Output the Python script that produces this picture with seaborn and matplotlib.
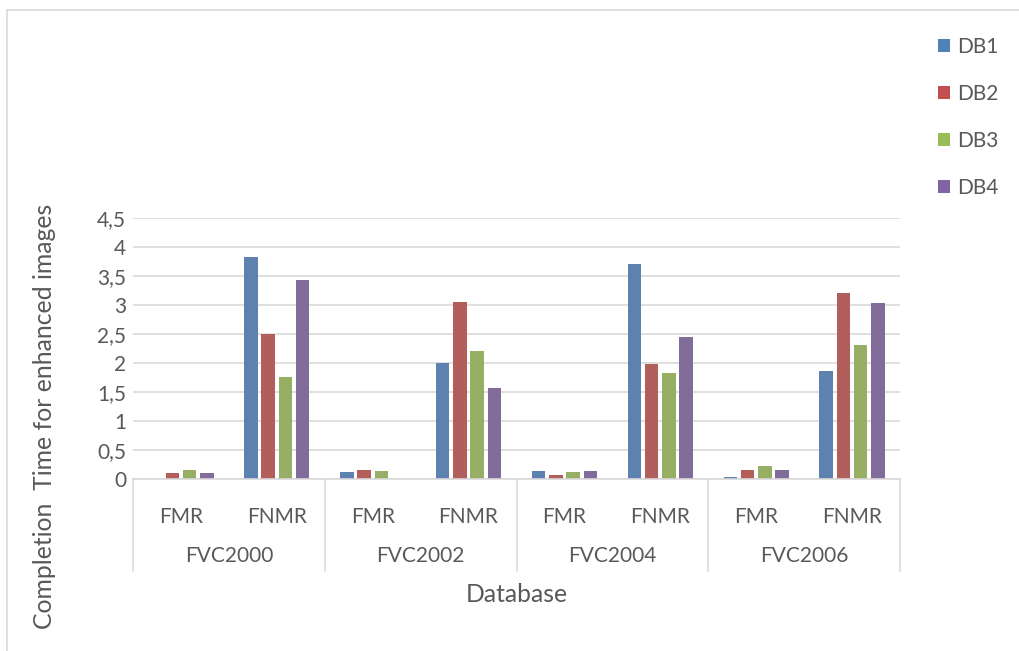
import matplotlib
matplotlib.use("Agg")
import matplotlib.pyplot as plt
from matplotlib.patches import Rectangle, Patch
import seaborn as sns
import pandas as pd

# Chart data
competitions = ["FVC2000", "FVC2002", "FVC2004", "FVC2006"]
metrics = ["FMR", "FNMR"]
databases = ["DB1", "DB2", "DB3", "DB4"]

# values per database, ordered FVC2000 FMR, FVC2000 FNMR, FVC2002 FMR, ...
db1 = [0.00, 3.83, 0.12, 2.00, 0.13, 3.70, 0.04, 1.87]
db2 = [0.11, 2.50, 0.15, 3.06, 0.07, 1.98, 0.15, 3.21]
db3 = [0.15, 1.76, 0.13, 2.21, 0.12, 1.83, 0.22, 2.31]
db4 = [0.10, 3.43, 0.00, 1.57, 0.13, 2.44, 0.15, 3.04]

y_ticks = [0, 0.5, 1, 1.5, 2, 2.5, 3, 3.5, 4, 4.5]
y_tick_labels = ["0", "0,5", "1", "1,5", "2", "2,5", "3", "3,5", "4", "4,5"]

colors = ["#4F81BD", "#C0504D", "#9BBB59", "#8064A2"]
text_color = "#595959"
line_color = "#D9D9D9"

categories = [f"{c} {m}" for c in competitions for m in metrics]
series = {"DB1": db1, "DB2": db2, "DB3": db3, "DB4": db4}
rows = []
for db, vals in series.items():
    for cat, v in zip(categories, vals):
        rows.append({"category": cat, "database": db, "value": v})
df = pd.DataFrame(rows)

sns.set_theme(style="white")
plt.rcParams["font.family"] = ["Lato", "DejaVu Sans"]

W, H = 1019, 651
fig = plt.figure(figsize=(W / 100, H / 100), dpi=100)
ax = fig.add_axes([133 / W, (H - 479) / H, (900 - 133) / W, (479 - 218) / H])

sns.barplot(data=df, x="category", y="value", hue="database",
            order=categories, hue_order=databases, palette=colors,
            width=0.72, errorbar=None, linewidth=0, ax=ax)

# leave a small gap between neighbouring bars
for p in ax.patches:
    w = p.get_width()
    p.set_x(p.get_x() + w * 0.11)
    p.set_width(w * 0.78)

if ax.get_legend() is not None:
    ax.get_legend().remove()

ax.set_xlim(-0.5, len(categories) - 0.5)
ax.set_ylim(0, 4.5)
ax.set_yticks(y_ticks)
ax.set_yticklabels(y_tick_labels)
ax.yaxis.grid(True, color=line_color, linewidth=1.2)
ax.set_axisbelow(True)
for s in ["left", "right", "top"]:
    ax.spines[s].set_visible(False)
ax.spines["bottom"].set_color(line_color)
ax.spines["bottom"].set_linewidth(1.2)

ax.set_xticks(range(len(categories)))
ax.set_xticklabels([m for _ in competitions for m in metrics])
ax.tick_params(axis="x", length=0, pad=20, labelsize=15, labelcolor=text_color)
ax.tick_params(axis="y", length=0, pad=5, labelsize=15, labelcolor=text_color)
ax.set_xlabel("")
ax.set_ylabel("")

# second level of the category axis: group labels and separators
trans = ax.get_xaxis_transform()
for i, comp in enumerate(competitions):
    ax.text(2 * i + 0.5, (479 - 556) / 261, comp, transform=trans,
            ha="center", va="center", fontsize=15, color=text_color)
for xb in [-0.5, 1.5, 3.5, 5.5, 7.5]:
    ax.plot([xb, xb], [0, (479 - 571) / 261], transform=trans,
            color=line_color, linewidth=1.2, clip_on=False)

fig.text(516.5 / W, 1 - 595 / H, "Database", ha="center", va="center",
         fontsize=17.8, color=text_color)
fig.text(45 / W, 1 - 416 / H, "Completion  Time for enhanced images",
         rotation=90, ha="center", va="center", fontsize=17.8, color=text_color)

leg_handles = [Patch(facecolor=c, edgecolor="none") for c in colors]
fig.legend(leg_handles, databases, loc="upper left",
           bbox_to_anchor=(938 / W, 1 - 37 / H), frameon=False,
           fontsize=15, labelcolor=text_color, handlelength=0.58,
           handleheight=0.58, handletextpad=0.35, labelspacing=1.30,
           borderpad=0, borderaxespad=0)

# chart frame
fig.add_artist(Rectangle((7 / W, -0.05), 1.1, 1 - 10 / H + 0.05,
                         transform=fig.transFigure, fill=False,
                         edgecolor=line_color, linewidth=1.2))

fig.savefig("out.png", dpi=100, facecolor="white")
